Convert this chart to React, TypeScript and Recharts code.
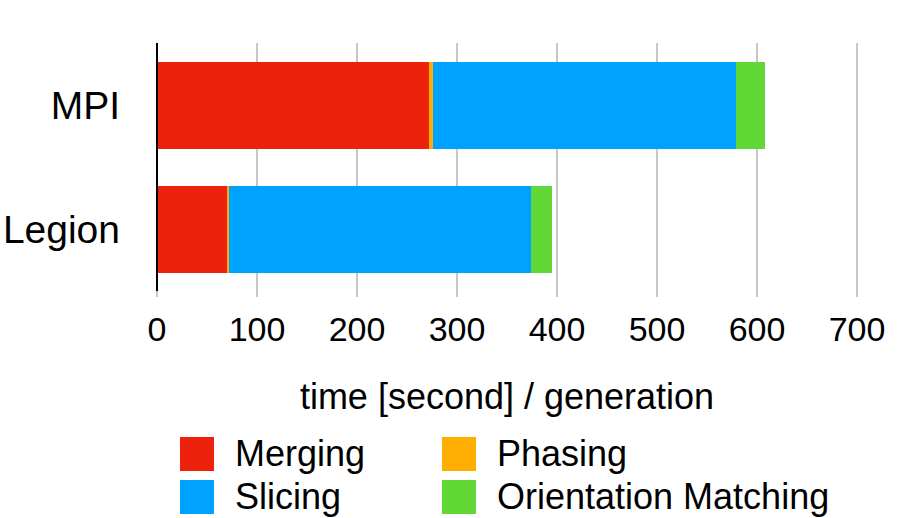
import { Bar, BarChart, CartesianGrid, Legend, XAxis, YAxis } from "recharts";

const categories = ["MPI", "Legion"];
const merging = [272, 70];
const phasing = [4, 2];
const slicing = [303, 302];
const orientationMatching = [29, 21];
const xTicks = [0, 100, 200, 300, 400, 500, 600, 700];

const series = [
  { key: "merging", name: "Merging", color: "#EE220C" },
  { key: "phasing", name: "Phasing", color: "#FEAE00" },
  { key: "slicing", name: "Slicing", color: "#00A2FF" },
  { key: "orientation", name: "Orientation Matching", color: "#61D836" },
];

const data = categories.map((name, i) => ({
  name,
  merging: merging[i],
  phasing: phasing[i],
  slicing: slicing[i],
  orientation: orientationMatching[i],
}));

// legend order in the picture: Merging, Phasing / Slicing, Orientation Matching
const renderLegend = () => (
  <div
    style={{
      display: "grid",
      gridTemplateColumns: "262px 420px",
      rowGap: 9,
      fontSize: 36,
      lineHeight: "34px",
      color: "#000",
    }}
  >
    {series.map((s) => (
      <div key={s.key} style={{ display: "flex", alignItems: "center" }}>
        <span
          style={{
            width: 34,
            height: 34,
            background: s.color,
            marginRight: 21,
            flexShrink: 0,
          }}
        />
        <span style={{ whiteSpace: "nowrap" }}>{s.name}</span>
      </div>
    ))}
  </div>
);

export default function App() {
  return (
    <div
      style={{
        position: "absolute",
        left: 0,
        top: 0,
        fontFamily: "'Liberation Sans', Arial, Helvetica, sans-serif",
        background: "#fff",
      }}
    >
      <BarChart
        width={906}
        height={518}
        data={data}
        layout="vertical"
        margin={{ top: 43, right: 49, bottom: 97, left: 0 }}
      >
        <CartesianGrid
          horizontal={false}
          stroke="#b5b5b5"
          strokeWidth={1.5}
        />
        <XAxis
          type="number"
          domain={[0, 700]}
          ticks={xTicks}
          height={130}
          axisLine={false}
          tickLine={{ stroke: "#b5b5b5", strokeWidth: 1.5 }}
          tickSize={6}
          tickMargin={20}
          tick={{ fill: "#000", fontSize: 34 }}
          label={{
            value: "time [second] / generation",
            position: "insideBottom",
            offset: 12,
            fill: "#000",
            fontSize: 36,
          }}
        />
        <YAxis
          type="category"
          dataKey="name"
          width={157}
          axisLine={{ stroke: "#000", strokeWidth: 2 }}
          tickLine={false}
          tickSize={0}
          tickMargin={37}
          tick={{ fill: "#000", fontSize: 39 }}
        />
        <Legend
          layout="horizontal"
          verticalAlign="middle"
          align="center"
          wrapperStyle={{ top: 437, left: 180, width: 720, height: 80 }}
          content={renderLegend}
        />
        {series.map((s) => (
          <Bar
            key={s.key}
            dataKey={s.key}
            name={s.name}
            stackId="t"
            fill={s.color}
            barSize={87}
            isAnimationActive={false}
          />
        ))}
      </BarChart>
    </div>
  );
}
